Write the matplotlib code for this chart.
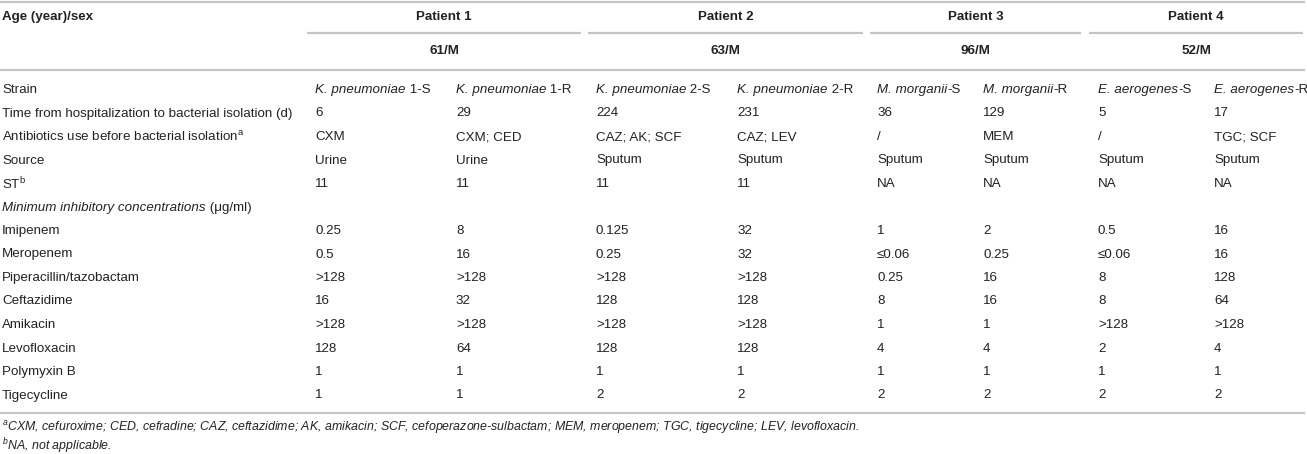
import matplotlib
matplotlib.use("Agg")
import matplotlib.pyplot as plt

plt.rcParams['font.family'] = ['Liberation Sans', 'DejaVu Sans']
plt.rcParams['mathtext.fontset'] = 'custom'
plt.rcParams['mathtext.rm'] = 'Liberation Sans'
plt.rcParams['mathtext.it'] = 'Liberation Sans:italic'
plt.rcParams['mathtext.bf'] = 'Liberation Sans:bold'

# table content
patients = ['Patient 1', 'Patient 2', 'Patient 3', 'Patient 4']
ages = ['61/M', '63/M', '96/M', '52/M']
strain_species = ['K. pneumoniae', 'K. pneumoniae', 'K. pneumoniae', 'K. pneumoniae',
                  'M. morganii', 'M. morganii', 'E. aerogenes', 'E. aerogenes']
strain_suffix = [' 1-S', ' 1-R', ' 2-S', ' 2-R', '-S', '-R', '-S', '-R']
time_days = ['6', '29', '224', '231', '36', '129', '5', '17']
antibiotics = ['CXM', 'CXM; CED', 'CAZ; AK; SCF', 'CAZ; LEV', '/', 'MEM', '/', 'TGC; SCF']
source = ['Urine', 'Urine', 'Sputum', 'Sputum', 'Sputum', 'Sputum', 'Sputum', 'Sputum']
st = ['11', '11', '11', '11', 'NA', 'NA', 'NA', 'NA']

drugs = ['Imipenem', 'Meropenem', 'Piperacillin/tazobactam', 'Ceftazidime',
         'Amikacin', 'Levofloxacin', 'Polymyxin B', 'Tigecycline']
imipenem = ['0.25', '8', '0.125', '32', '1', '2', '0.5', '16']
meropenem = ['0.5', '16', '0.25', '32', '≤0.06', '0.25', '≤0.06', '16']
pip_tazo = ['>128', '>128', '>128', '>128', '0.25', '16', '8', '128']
ceftazidime = ['16', '32', '128', '128', '8', '16', '8', '64']
amikacin = ['>128', '>128', '>128', '>128', '1', '1', '>128', '>128']
levofloxacin = ['128', '64', '128', '128', '4', '4', '2', '4']
polymyxin_b = ['1', '1', '1', '1', '1', '1', '1', '1']
tigecycline = ['1', '1', '2', '2', '2', '2', '2', '2']

footnote_a = ('CXM, cefuroxime; CED, cefradine; CAZ, ceftazidime; AK, amikacin; '
              'SCF, cefoperazone-sulbactam; MEM, meropenem; TGC, tigecycline; LEV, levofloxacin.')
footnote_b = 'NA, not applicable.'

W, H = 1307, 454
fig = plt.figure(figsize=(W / 100, H / 100), dpi=100)
ax = fig.add_axes([0, 0, 1, 1])
ax.set_xlim(0, W)
ax.set_ylim(H, 0)
ax.axis('off')
renderer = fig.canvas.get_renderer()

txt = '#222222'
line_c = '#c4c4c4'
fs = 9.6


def pieces(x, y, parts, size=fs):
    # parts: list of (string, style) drawn one after another
    for s, style in parts:
        t = ax.text(x, y, s, fontsize=size, style=style, color=txt, va='center')
        x += t.get_window_extent(renderer).width
    return x


col_x = [315, 456, 596, 737, 877, 983, 1098, 1214]
groups = [(307, 581), (588, 863), (870, 1081), (1089, 1303)]

# rules
for y in [1.5, 70, 413]:
    ax.plot([0, 1305], [y, y], color=line_c, lw=1.6, solid_capstyle='butt')
for x0, x1 in groups:
    ax.plot([x0, x1], [33, 33], color=line_c, lw=1.6, solid_capstyle='butt')

# header
ax.text(2, 17, 'Age (year)/sex', fontsize=fs, fontweight='bold', color=txt, va='center')
for (x0, x1), p, a in zip(groups, patients, ages):
    ax.text((x0 + x1) / 2, 17, p, fontsize=fs, fontweight='bold', color=txt, va='center', ha='center')
    ax.text((x0 + x1) / 2, 51, a, fontsize=fs, fontweight='bold', color=txt, va='center', ha='center')

y0, dy = 90, 23.5

# strain row
ax.text(2, y0, 'Strain', fontsize=fs, color=txt, va='center')
for x, sp, sf in zip(col_x, strain_species, strain_suffix):
    pieces(x, y0, [(sp, 'italic'), (sf, 'normal')])

rows = [
    ('Time from hospitalization to bacterial isolation (d)', time_days),
    (r'Antibiotics use before bacterial isolation$^{\mathrm{a}}$', antibiotics),
    ('Source', source),
    (r'ST$^{\mathrm{b}}$', st),
    (None, None),
]
mic = [imipenem, meropenem, pip_tazo, ceftazidime, amikacin, levofloxacin, polymyxin_b, tigecycline]
for d, vals in zip(drugs, mic):
    rows.append((d, vals))

for i, (label, vals) in enumerate(rows):
    y = y0 + (i + 1) * dy
    if label is None:
        pieces(2, y, [('Minimum inhibitory concentrations', 'italic'), (' (μg/ml)', 'normal')])
        continue
    ax.text(2, y, label, fontsize=fs, color=txt, va='center')
    for x, v in zip(col_x, vals):
        ax.text(x, y, v, fontsize=fs, color=txt, va='center')

# footnotes
ax.text(2, 428, r'$^{\mathit{a}}$' + footnote_a, fontsize=8.95, style='italic', color=txt, va='center')
ax.text(2, 446, r'$^{\mathit{b}}$' + footnote_b, fontsize=8.95, style='italic', color=txt, va='center')

fig.savefig('out.png', dpi=100)
